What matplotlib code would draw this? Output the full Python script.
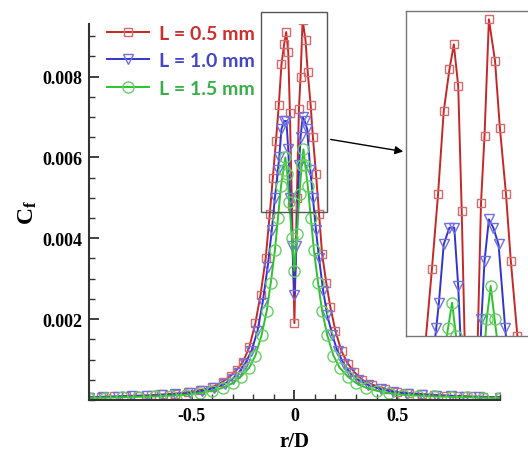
import matplotlib
matplotlib.use('Agg')
import matplotlib.pyplot as plt
from matplotlib.patches import Rectangle, FancyArrowPatch
from matplotlib.ticker import MultipleLocator

plt.rcParams['mathtext.fontset'] = 'custom'
plt.rcParams['mathtext.bf'] = 'Liberation Serif:bold'
plt.rcParams['mathtext.rm'] = 'Liberation Serif'

# L = 0.5 mm
r_red = [-1.0, -0.94, -0.88, -0.82, -0.76, -0.70, -0.64, -0.58, -0.52, -0.46,
         -0.40, -0.35, -0.31, -0.28, -0.25, -0.22, -0.19, -0.165, -0.14, -0.12,
         -0.105, -0.09, -0.076, -0.063, -0.05, -0.04, -0.03, -0.022, -0.012, 0.0,
         0.012, 0.022, 0.03, 0.04, 0.054, 0.065, 0.079, 0.09, 0.105, 0.12,
         0.135, 0.155, 0.175, 0.2, 0.23, 0.26, 0.29, 0.33, 0.38, 0.44,
         0.50, 0.56, 0.62, 0.68, 0.74, 0.80, 0.86, 0.92, 1.0]
cf_red = [0.00007, 0.00008, 0.00009, 0.0001, 0.00011, 0.00012, 0.00014, 0.00016, 0.00019, 0.00024,
          0.00032, 0.00045, 0.0006, 0.00075, 0.00095, 0.0013, 0.0019, 0.0026, 0.0035, 0.0046,
          0.0055, 0.0064, 0.0073, 0.0083, 0.0088, 0.0091, 0.0086, 0.0071, 0.0048, 0.0019,
          0.0050, 0.0072, 0.0080, 0.0094, 0.0089, 0.0081, 0.0073, 0.0065, 0.0056, 0.0046,
          0.0036, 0.0029, 0.0023, 0.0017, 0.0012, 0.0009, 0.0007, 0.0005, 0.00038, 0.00028,
          0.0002, 0.00017, 0.00015, 0.00013, 0.00011, 0.0001, 0.00009, 0.00008, 0.00007]

# L = 1.0 mm
r_blue = [-1.0, -0.93, -0.86, -0.79, -0.72, -0.65, -0.58, -0.51, -0.45, -0.39,
          -0.34, -0.30, -0.27, -0.24, -0.21, -0.18, -0.155, -0.13, -0.11, -0.095,
          -0.08, -0.074, -0.063, -0.05, -0.039, -0.03, -0.02, -0.01, 0.0, 0.01,
          0.023, 0.03, 0.04, 0.05, 0.062, 0.077, 0.09, 0.105, 0.12, 0.14,
          0.16, 0.185, 0.21, 0.24, 0.27, 0.31, 0.36, 0.42, 0.48, 0.55,
          0.62, 0.69, 0.76, 0.83, 0.90, 1.0]
cf_blue = [0.00006, 0.00007, 0.00008, 0.00009, 0.0001, 0.00012, 0.00014, 0.00017, 0.00022, 0.0003,
           0.0004, 0.00053, 0.00068, 0.0009, 0.0012, 0.0017, 0.0024, 0.0033, 0.0042, 0.005,
           0.0057, 0.006, 0.0067, 0.0069, 0.0069, 0.0062, 0.0050, 0.0038, 0.0026, 0.0038,
           0.0058, 0.0065, 0.0070, 0.0069, 0.0067, 0.0057, 0.0050, 0.0042, 0.0035, 0.0027,
           0.0021, 0.0016, 0.0012, 0.0009, 0.00068, 0.0005, 0.00037, 0.00027, 0.0002, 0.00016,
           0.00013, 0.00011, 0.0001, 0.00008, 0.00007, 0.00006]

# L = 1.5 mm
r_green = [-1.0, -0.92, -0.84, -0.76, -0.68, -0.60, -0.53, -0.46, -0.40, -0.35,
           -0.30, -0.26, -0.22, -0.19, -0.16, -0.135, -0.115, -0.095, -0.08, -0.065,
           -0.053, -0.044, -0.035, -0.025, -0.012, 0.0, 0.012, 0.025, 0.035, 0.044,
           0.053, 0.065, 0.08, 0.095, 0.115, 0.135, 0.16, 0.19, 0.22, 0.26,
           0.30, 0.35, 0.40, 0.46, 0.53, 0.60, 0.68, 0.76, 0.84, 0.92, 1.0]
cf_green = [0.00005, 0.00006, 0.00007, 0.00008, 0.00009, 0.00011, 0.00013, 0.00017, 0.00023, 0.0003,
            0.00042, 0.00058, 0.0008, 0.0011, 0.0016, 0.0022, 0.0029, 0.0037, 0.0045, 0.0053,
            0.0057, 0.0060, 0.0056, 0.0049, 0.0040, 0.0032, 0.0041, 0.0051, 0.0058, 0.0062,
            0.0058, 0.0053, 0.0045, 0.0037, 0.0029, 0.0022, 0.0016, 0.0011, 0.0008, 0.00058,
            0.00042, 0.0003, 0.00023, 0.00017, 0.00013, 0.00011, 0.00009, 0.00008, 0.00007, 0.00006, 0.00005]

labels = ['L = 0.5 mm', 'L = 1.0 mm', 'L = 1.5 mm']
line_colors = ['#c42828', '#3434cc', '#2ec22e']
marker_colors = ['#d86a6a', '#7070e6', '#66d066']
text_colors = ['#cc2f2f', '#4646c4', '#3aae4a']
markers = ['s', 'v', 'o']
msizes = [6, 7, 8]

series = [(r_red, cf_red), (r_blue, cf_blue), (r_green, cf_green)]

fig = plt.figure(figsize=(5.28, 4.52), dpi=100)
ax = fig.add_axes([0.1686, 0.1128, 0.778, 0.832])

def draw(a):
    handles = []
    for i, (r, cf) in enumerate(series):
        h, = a.plot(r, cf, color=line_colors[i], lw=1.4, marker=markers[i],
                    ms=msizes[i], mfc='none', mec=marker_colors[i], mew=1.0,
                    label=labels[i])
        handles.append(h)
    return handles

handles = draw(ax)

ax.set_xlim(-1, 1)
ax.set_ylim(0, 0.0093)
ax.xaxis.set_minor_locator(MultipleLocator(0.1))
ax.yaxis.set_minor_locator(MultipleLocator(0.0005))
ax.set_xticks([-0.5, 0, 0.5])
ax.set_xticklabels(['-0.5', '0', '0.5'])
ax.set_yticks([0.002, 0.004, 0.006, 0.008])
ax.set_yticklabels(['0.002', '0.004', '0.006', '0.008'])
for lab in ax.get_xticklabels() + ax.get_yticklabels():
    lab.set_fontfamily('Liberation Serif')
    lab.set_fontweight('bold')
    lab.set_fontsize(13)
ax.tick_params(which='major', direction='in', length=7, width=1.3, color='#333333', pad=5)
ax.tick_params(which='minor', direction='in', length=4, width=1.0, color='#333333')
ax.spines['top'].set_visible(False)
ax.spines['right'].set_visible(False)
for s in ['left', 'bottom']:
    ax.spines[s].set_linewidth(1.5)
    ax.spines[s].set_color('#333333')

ax.set_xlabel('r/D', fontfamily='Liberation Serif', fontweight='bold', fontsize=15, labelpad=5)
ax.set_ylabel(r'$\mathbf{C_f}$', fontsize=17, labelpad=2)

leg = ax.legend(handles=handles, loc='upper left', bbox_to_anchor=(0.0, 1.045),
                frameon=False, handlelength=2.2, handletextpad=0.5, labelspacing=0.55,
                prop={'family': 'Lato', 'weight': 'bold', 'size': 14})
for t, c in zip(leg.get_texts(), text_colors):
    t.set_color(c)

# zoom box on the main plot
ax.add_patch(Rectangle((-0.161, 0.00464), 0.322, 0.00496, fill=False,
                       ec='#555555', lw=1.0, clip_on=False, zorder=5))

# inset
ins = fig.add_axes([0.769, 0.2544, 0.24, 0.719])
draw(ins)
ins.set_xlim(-0.149, 0.14)
ins.set_ylim(0.0056, 0.0095)
ins.set_xticks([])
ins.set_yticks([])
for s in ins.spines.values():
    s.set_color('#777777')
    s.set_linewidth(1.0)

fig.add_artist(FancyArrowPatch(
    (328 / 528, 1 - 140 / 452), (406 / 528, 1 - 153 / 452),
    transform=fig.transFigure, arrowstyle='-|>', mutation_scale=12,
    color='black', lw=1.0))

fig.savefig('out.png', dpi=100)
